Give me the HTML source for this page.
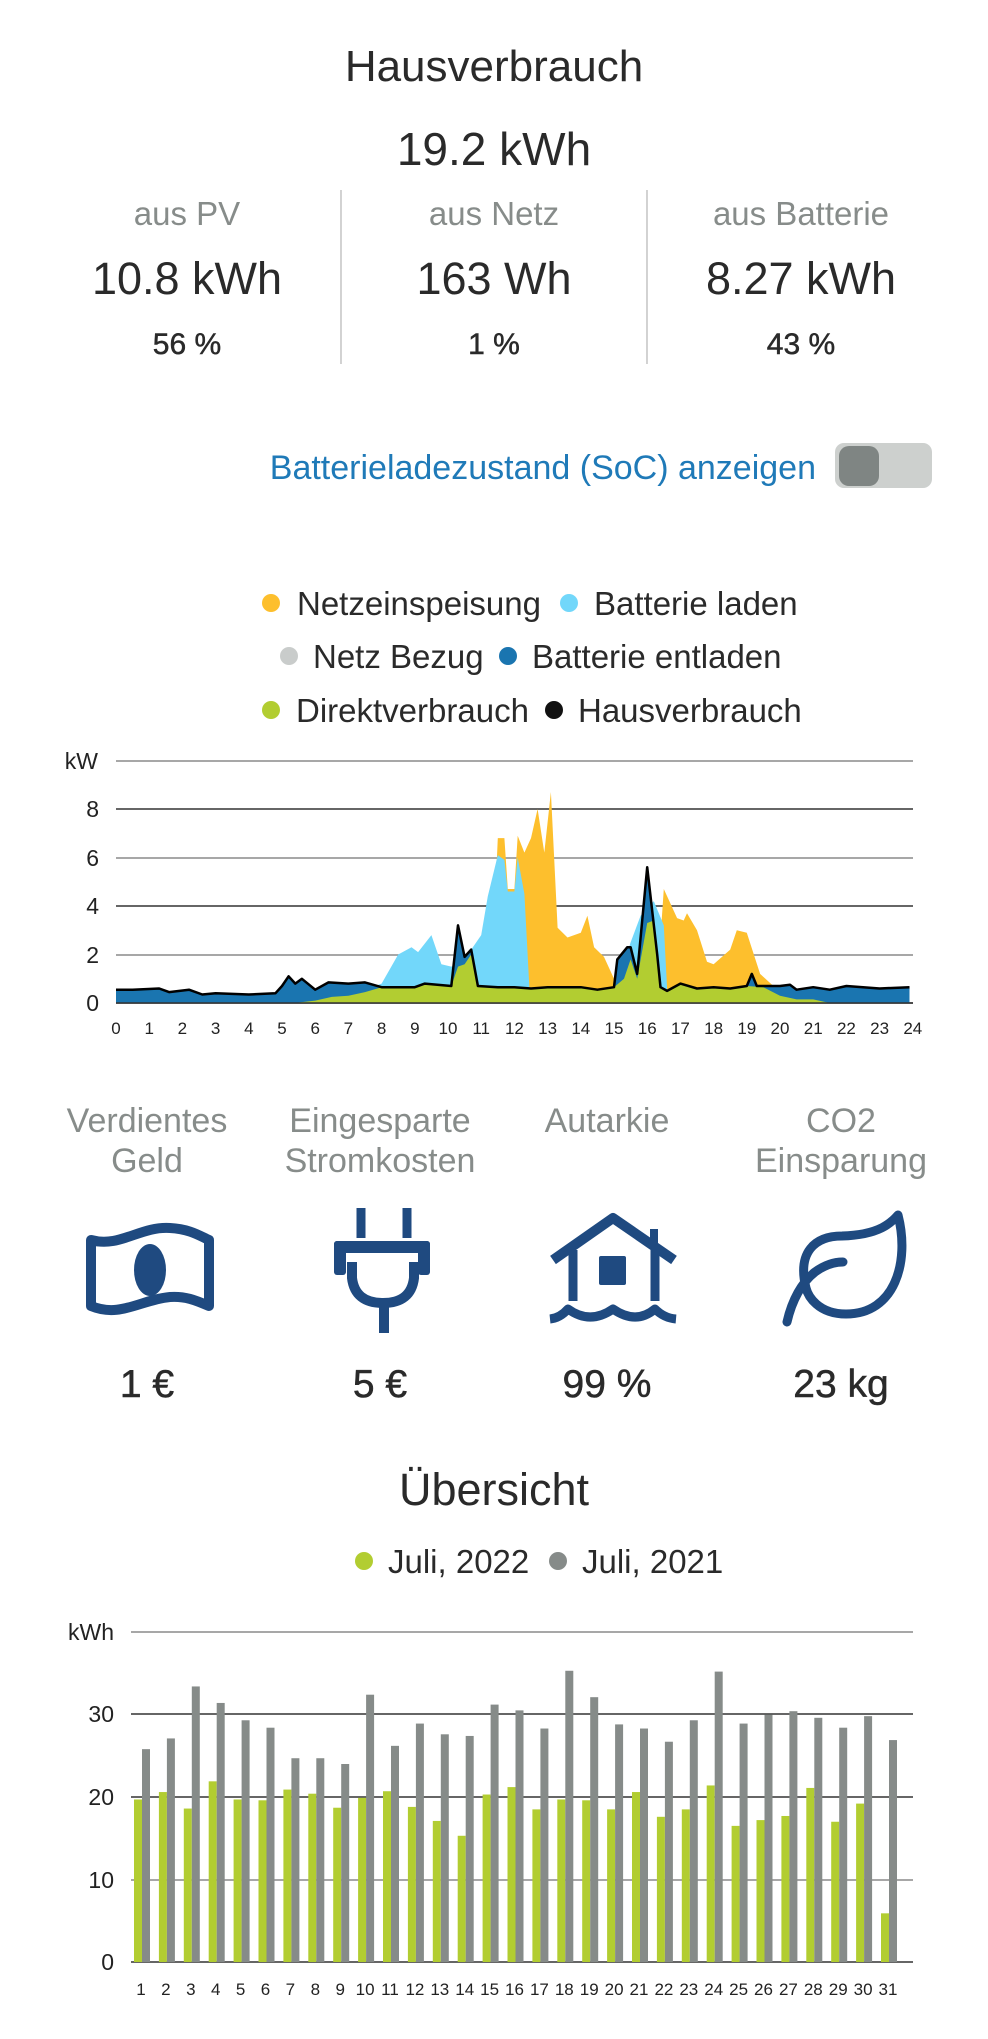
<!DOCTYPE html>
<html><head><meta charset="utf-8">
<style>
html,body{margin:0;padding:0;background:#fff;width:988px;height:2039px;overflow:hidden}
svg{display:block}
text{font-family:"Liberation Sans",Arial,sans-serif}
</style></head>
<body>
<svg id="s" width="988" height="2039" viewBox="0 0 988 2039" xmlns="http://www.w3.org/2000/svg">
<g fill="#2a2a2a" text-anchor="middle">
<text x="494" y="81" font-size="44">Hausverbrauch</text>
<text x="494" y="165" font-size="46">19.2 kWh</text>
<text x="187" y="225" font-size="33" fill="#878c8a">aus PV</text>
<text x="494" y="225" font-size="33" fill="#878c8a">aus Netz</text>
<text x="801" y="225" font-size="33" fill="#878c8a">aus Batterie</text>
<text x="187" y="294" font-size="45">10.8 kWh</text>
<text x="494" y="294" font-size="45">163 Wh</text>
<text x="801" y="294" font-size="45">8.27 kWh</text>
<text x="187" y="354" font-size="30" stroke="#2a2a2a" stroke-width="0.5">56 %</text>
<text x="494" y="354" font-size="30" stroke="#2a2a2a" stroke-width="0.5">1 %</text>
<text x="801" y="354" font-size="30" stroke="#2a2a2a" stroke-width="0.5">43 %</text>
</g>
<line x1="341" y1="190" x2="341" y2="364" stroke="#bbb" stroke-width="1.3"/>
<line x1="647" y1="190" x2="647" y2="364" stroke="#bbb" stroke-width="1.3"/>
<text x="816" y="479" font-size="34" fill="#1f7ab8" text-anchor="end">Batterieladezustand (SoC) anzeigen</text>
<rect x="835" y="443" width="97" height="45" rx="9" fill="#cdd0ce"/>
<rect x="839" y="446" width="40" height="40" rx="10" fill="#7f8583"/>

<g font-size="33" fill="#2a2a2a">
<circle cx="271" cy="603" r="9" fill="#fdbf2d"/><text x="297" y="615">Netzeinspeisung</text>
<circle cx="569" cy="603" r="9" fill="#72d7fa"/><text x="594" y="615">Batterie laden</text>
<circle cx="289" cy="656" r="9" fill="#c9cccb"/><text x="313" y="668">Netz Bezug</text>
<circle cx="508" cy="656" r="9" fill="#1a75b0"/><text x="532" y="668">Batterie entladen</text>
<circle cx="271" cy="710" r="9" fill="#b2cd31"/><text x="296" y="722">Direktverbrauch</text>
<circle cx="554" cy="710" r="9" fill="#111"/><text x="578" y="722">Hausverbrauch</text>
</g>
<g id="c1"></g>

<g font-size="34" fill="#878c8a" text-anchor="middle">
<text x="147" y="1132">Verdientes</text><text x="147" y="1172">Geld</text>
<text x="380" y="1132">Eingesparte</text><text x="380" y="1172">Stromkosten</text>
<text x="607" y="1132">Autarkie</text>
<text x="841" y="1132">CO2</text><text x="841" y="1172">Einsparung</text>
</g>
<g fill="none" stroke="#1f4a80" stroke-width="10" stroke-linejoin="round">
<path d="M91 1240 C120 1248 140 1226 170 1228 C190 1229 200 1236 209 1240 L209 1306 C195 1300 185 1296 170 1297 C140 1300 120 1318 91 1306 Z"/>
<path d="M352 1262 L352 1278 Q355 1303 383 1303 Q411 1303 414 1278 L414 1262"/>
<line x1="384" y1="1303" x2="384" y2="1333"/>
<line x1="361" y1="1208" x2="361" y2="1238" stroke-width="9"/>
<line x1="407" y1="1208" x2="407" y2="1238" stroke-width="9"/>
<polyline points="553,1260 613,1218 674,1260"/>
<line x1="654" y1="1229" x2="654" y2="1248" stroke-width="8"/>
<line x1="573" y1="1250" x2="573" y2="1301" stroke-width="9"/>
<line x1="655" y1="1250" x2="655" y2="1301" stroke-width="9"/>
<path d="M550 1319 Q560 1318 568 1309 Q590 1325 613 1309 Q636 1325 655 1309 Q664 1318 676 1319" stroke-width="9"/>
<path d="M806 1288 C797 1252 815 1236 842 1236 C880 1235 892 1222 898 1215 C910 1262 895 1314 846 1314 C818 1314 808 1296 806 1288 Z" stroke-width="9"/>
<path d="M787 1322 C792 1300 802 1282 815 1272 C826 1264 836 1262 843 1262" stroke-width="9" stroke-linecap="round"/>
</g>
<g fill="#1f4a80">
<ellipse cx="150" cy="1270" rx="16" ry="26"/>
<rect x="334" y="1241" width="96" height="12" rx="3"/>
<rect x="334" y="1241" width="12" height="34" rx="3"/>
<rect x="418" y="1241" width="12" height="34" rx="3"/>
<rect x="599" y="1256" width="27" height="29" rx="2"/>
</g>
<g font-size="39" fill="#2a2a2a" text-anchor="middle" stroke="#2a2a2a" stroke-width="0.5">
<text x="147" y="1397">1 €</text><text x="380" y="1397">5 €</text>
<text x="607" y="1397">99 %</text><text x="841" y="1397">23 kg</text>
</g>

<text x="494" y="1505" font-size="45" fill="#2a2a2a" text-anchor="middle">Übersicht</text>
<g font-size="33" fill="#2a2a2a">
<circle cx="364" cy="1561" r="9" fill="#b2cd31"/><text x="388" y="1573">Juli, 2022</text>
<circle cx="558" cy="1561" r="9" fill="#868b89"/><text x="582" y="1573">Juli, 2021</text>
</g>
<g id="c2"></g>
</svg>
<script>
var NS="http://www.w3.org/2000/svg";
function el(p,t,a,txt){var e=document.createElementNS(NS,t);for(var k in a)e.setAttribute(k,a[k]);if(txt!==undefined)e.textContent=txt;p.appendChild(e);return e;}
var c1=document.getElementById("c1");
function X(h){return 116+h*33.2;} function Y(v){return 1003-v*24.25;}
var grid=[[761,"#8a8a8a"],[809,"#333"],[858,"#8a8a8a"],[906,"#333"],[955,"#8a8a8a"],[1003,"#333"]];
grid.forEach(function(g){el(c1,"line",{x1:116,x2:913,y1:g[0],y2:g[0],stroke:g[1],"stroke-width":1.5});});
el(c1,"text",{x:98,y:769,"font-size":23,"text-anchor":"end",fill:"#222"},"kW");
[[809,"8"],[858,"6"],[906,"4"],[955,"2"],[1003,"0"]].forEach(function(t){el(c1,"text",{x:99,y:t[0]+8,"font-size":23,"text-anchor":"end",fill:"#222"},t[1]);});
for(var h=0;h<=24;h++)el(c1,"text",{x:X(h),y:1034,"font-size":17,"text-anchor":"middle",fill:"#222"},""+h);
function poly(pts,fill){var s="M"+X(pts[0][0])+","+Y(0);pts.forEach(function(p){s+=" L"+X(p[0]).toFixed(1)+","+Y(p[1]).toFixed(1);});s+=" L"+X(pts[pts.length-1][0])+","+Y(0)+"Z";el(c1,"path",{d:s,fill:fill});}
var Yel1=[[11.3,0.7],[11.5,6.8],[11.7,6.8],[11.8,4.7],[12.0,4.7],[12.1,6.9],[12.3,6.2],[12.5,6.8],[12.7,8.0],[12.9,6.2],[13.1,8.7],[13.3,3.1],[13.6,2.7],[14.0,2.9],[14.2,3.6],[14.4,2.3],[14.7,1.9],[15.1,0.7]];
var Yel2=[[16.3,0.7],[16.5,4.7],[16.9,3.5],[17.1,3.4],[17.2,3.7],[17.5,3.0],[17.8,1.7],[18.0,1.6],[18.5,2.2],[18.7,3.0],[19.0,2.9],[19.4,1.2],[19.8,0.7]];
var LB1=[[7.7,0.65],[8.0,0.8],[8.5,2.0],[8.9,2.3],[9.1,2.1],[9.5,2.8],[9.8,1.6],[10.1,1.5],[10.3,1.6],[10.7,2.2],[11.0,2.8],[11.2,4.4],[11.5,6.1],[11.7,5.9],[11.8,4.6],[12.0,4.6],[12.1,6.0],[12.3,4.5],[12.45,0.7]];
var LB2=[[15.1,0.7],[15.5,2.5],[15.8,3.6],[16.2,4.2],[16.5,3.2],[16.6,0.6]];
var H=[[0,0.55],[0.5,0.55],[1.3,0.6],[1.6,0.45],[2.2,0.55],[2.6,0.35],[3,0.4],[4,0.35],[4.8,0.4],[5,0.7],[5.2,1.1],[5.4,0.8],[5.6,1.0],[6,0.55],[6.4,0.85],[7,0.8],[7.5,0.85],[8,0.65],[8.5,0.65],[9,0.65],[9.3,0.8],[10.1,0.7],[10.3,3.2],[10.5,1.9],[10.7,2.2],[10.9,0.7],[11.5,0.65],[12,0.65],[12.5,0.6],[13,0.65],[14,0.65],[14.5,0.55],[15,0.65],[15.1,1.8],[15.4,2.3],[15.5,2.3],[15.7,1.2],[16,5.6],[16.3,2],[16.4,0.65],[16.6,0.5],[17,0.8],[17.5,0.6],[18,0.65],[18.5,0.6],[19,0.7],[19.15,1.2],[19.3,0.7],[20,0.7],[20.3,0.75],[20.5,0.55],[21,0.65],[21.5,0.55],[22,0.7],[23,0.6],[23.9,0.65]];
var G=[[5,0],[5.5,0.02],[6,0.1],[6.5,0.25],[7,0.3],[7.5,0.45],[8,0.65],[9,0.65],[9.3,0.8],[10.1,0.7],[10.3,1.5],[10.5,1.6],[10.7,2.0],[10.9,0.7],[11.5,0.65],[12,0.65],[12.5,0.6],[13,0.65],[14,0.65],[14.5,0.55],[15,0.65],[15.3,1.0],[15.5,1.8],[15.7,1.0],[16,3.3],[16.2,3.4],[16.4,0.65],[16.6,0.5],[17,0.8],[17.5,0.6],[18,0.65],[18.5,0.6],[19,0.7],[19.5,0.65],[20,0.3],[20.5,0.15],[21,0.15],[21.5,0],[24,0]];
poly(Yel1,"#fdbf2d");poly(Yel2,"#fdbf2d");poly(LB1,"#72d7fa");poly(LB2,"#72d7fa");poly(H,"#1a75b0");poly(G,"#b2cd31");
var s="";H.forEach(function(p,i){s+=(i?" L":"M")+X(p[0]).toFixed(1)+","+Y(p[1]).toFixed(1);});
el(c1,"path",{d:s,fill:"none",stroke:"#000","stroke-width":2.5,"stroke-linejoin":"round"});
el(c1,"line",{x1:116,x2:913,y1:1003,y2:1003,stroke:"#333","stroke-width":1.5});

var c2=document.getElementById("c2");
function Y2(v){return 1962-v*8.25;}
[[1632,"#8a8a8a"],[1714,"#333"],[1797,"#333"],[1880,"#8a8a8a"],[1962,"#333"]].forEach(function(g){el(c2,"line",{x1:131,x2:913,y1:g[0],y2:g[0],stroke:g[1],"stroke-width":1.5});});
el(c2,"text",{x:114,y:1640,"font-size":23,"text-anchor":"end",fill:"#222"},"kWh");
[[1714,"30"],[1797,"20"],[1880,"10"],[1962,"0"]].forEach(function(t){el(c2,"text",{x:114,y:t[0]+8,"font-size":23,"text-anchor":"end",fill:"#222"},t[1]);});
var gr=[19.7,20.6,18.6,21.9,19.7,19.6,20.9,20.4,18.7,19.9,20.7,18.8,17.1,15.3,20.3,21.2,18.5,19.7,19.6,18.5,20.6,17.6,18.5,21.4,16.5,17.2,17.7,21.1,17.0,19.2,5.9];
var gy=[25.8,27.1,33.4,31.4,29.3,28.4,24.7,24.7,24.0,32.4,26.2,28.9,27.6,27.4,31.2,30.5,28.3,35.3,32.1,28.8,28.3,26.7,29.3,35.2,28.9,30.0,30.4,29.6,28.4,29.8,26.9];
for(var i=0;i<31;i++){var x=134+i*24.9;
el(c2,"rect",{x:x,y:Y2(gr[i]),width:8,height:gr[i]*8.25,fill:"#b2cd31"});
el(c2,"rect",{x:x+8,y:Y2(gy[i]),width:8,height:gy[i]*8.25,fill:"#868b89"});
el(c2,"text",{x:x+7,y:1995,"font-size":17,"text-anchor":"middle",fill:"#222"},""+(i+1));}
</script>
</body></html>
